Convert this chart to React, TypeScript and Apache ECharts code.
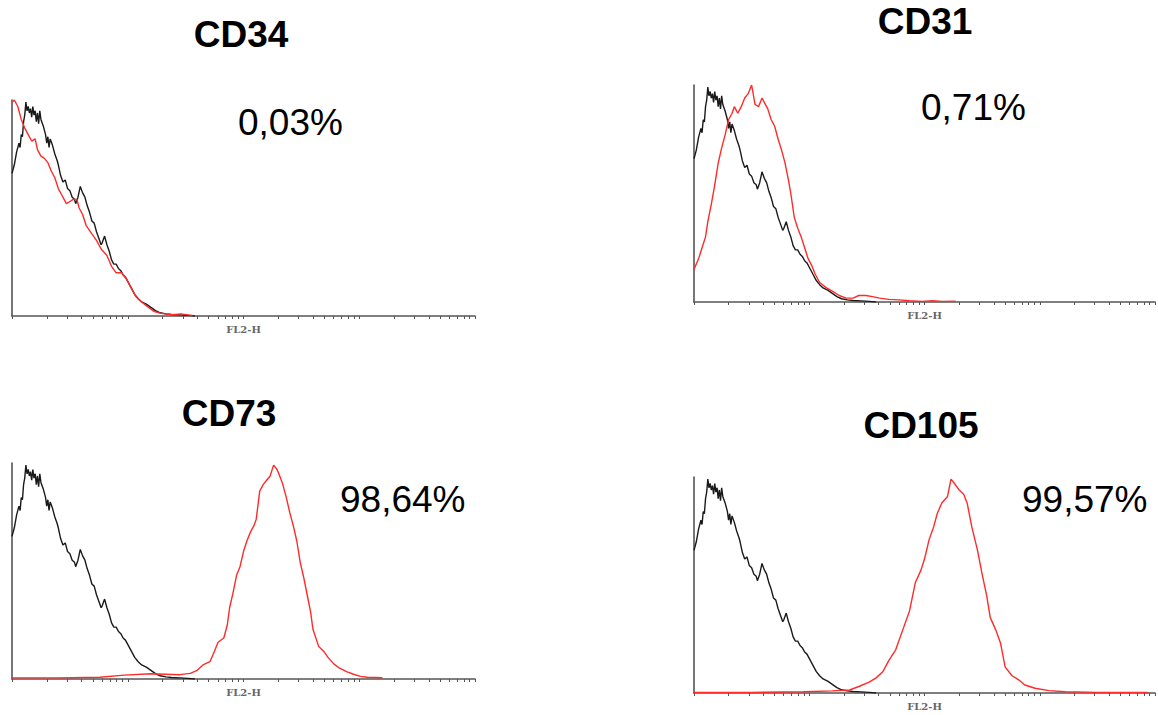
import React, { useEffect, useRef } from "react";
import * as echarts from "echarts";

// Panel labels
const panelTitles = ["CD34", "CD31", "CD73", "CD105"];
const panelPercents = ["0,03%", "0,71%", "98,64%", "99,57%"];
const axisName = "FL2-H";

// Log axis: decades 10^0 .. 10^4, ticks at 1..9 per decade
const decades = [0, 1, 2, 3];
const tickMultipliers = [1, 2, 3, 4, 5, 6, 7, 8, 9];

// Histograms: [log10(FL2-H), % of max count]
const isotypeCurve = [
  [0.0, 66], [0.02, 70], [0.04, 76], [0.06, 80], [0.07, 78], [0.08, 84], [0.09, 83], [0.1, 90],
  [0.11, 93], [0.12, 99], [0.13, 95], [0.14, 97], [0.15, 94], [0.16, 96], [0.17, 92], [0.18, 97],
  [0.19, 93], [0.2, 95], [0.21, 90], [0.22, 94], [0.23, 89], [0.24, 95], [0.25, 91], [0.27, 88],
  [0.29, 84], [0.3, 80], [0.31, 83], [0.32, 78], [0.33, 82], [0.35, 79], [0.37, 75], [0.39, 72],
  [0.4, 70], [0.42, 65], [0.44, 62], [0.46, 63], [0.48, 59], [0.5, 58], [0.52, 55], [0.54, 54],
  [0.55, 52], [0.57, 55], [0.59, 60], [0.61, 57], [0.63, 55], [0.65, 51], [0.67, 48], [0.69, 44],
  [0.71, 43], [0.73, 39], [0.75, 36], [0.77, 33], [0.78, 34], [0.8, 37], [0.82, 33], [0.84, 30],
  [0.86, 26], [0.88, 24], [0.9, 24], [0.92, 22], [0.94, 21], [0.96, 19], [0.98, 18], [1.0, 16],
  [1.03, 13], [1.06, 10], [1.09, 8], [1.12, 6.5], [1.16, 5.5], [1.2, 4], [1.24, 2.5], [1.28, 1.5],
  [1.33, 1], [1.38, 0.7], [1.45, 0.5], [1.52, 0.3], [1.58, 0],
];

const cd34Curve = [
  [0.0, 99], [0.02, 100], [0.05, 97], [0.08, 91], [0.11, 87], [0.14, 84], [0.17, 81], [0.2, 82],
  [0.22, 77], [0.25, 74], [0.28, 73], [0.31, 71], [0.34, 67], [0.37, 64], [0.4, 59], [0.43, 56],
  [0.47, 52], [0.5, 53], [0.53, 54], [0.56, 54], [0.58, 50], [0.61, 47], [0.64, 42], [0.69, 38],
  [0.73, 35], [0.77, 31], [0.82, 28], [0.86, 23], [0.9, 20], [0.95, 20], [0.99, 17], [1.03, 13],
  [1.07, 9], [1.12, 6.5], [1.18, 4], [1.23, 2], [1.29, 1.2], [1.38, 0.6], [1.46, 1], [1.52, 0.5],
  [1.56, 0.2],
];

const cd31Curve = [
  [0.0, 15], [0.04, 20], [0.07, 25], [0.1, 30], [0.12, 37], [0.15, 45], [0.18, 54], [0.21, 64],
  [0.24, 71], [0.27, 77], [0.3, 84], [0.33, 87], [0.35, 90], [0.38, 87], [0.41, 90], [0.44, 94],
  [0.47, 96], [0.5, 100], [0.53, 91], [0.56, 90], [0.59, 94], [0.61, 92], [0.64, 89], [0.67, 84],
  [0.7, 81], [0.73, 75], [0.76, 70], [0.79, 64], [0.82, 56], [0.84, 50], [0.87, 39], [0.9, 34],
  [0.93, 30], [0.96, 25], [0.99, 20], [1.02, 17], [1.05, 13], [1.09, 9], [1.15, 6.5], [1.2, 5],
  [1.26, 3], [1.32, 1.8], [1.38, 1.8], [1.43, 3], [1.49, 3], [1.55, 2.5], [1.61, 1.8], [1.69, 1.2],
  [1.78, 1], [1.87, 0.6], [1.98, 0.3], [2.07, 0.6], [2.15, 0.3], [2.27, 0.4],
];

const cd73Curve = [
  [0.0, 0.5], [0.4, 0.5], [0.76, 0.8], [0.97, 1.8], [1.2, 2.4], [1.45, 2], [1.54, 2.6], [1.6, 4],
  [1.65, 6.5], [1.71, 8], [1.75, 13], [1.78, 17], [1.83, 19], [1.86, 25], [1.88, 33], [1.91, 40],
  [1.94, 48], [1.97, 52], [2.0, 59], [2.03, 64], [2.06, 68], [2.09, 71], [2.11, 74], [2.14, 87],
  [2.17, 90], [2.2, 92], [2.23, 94], [2.26, 99], [2.29, 97], [2.32, 93], [2.34, 90], [2.37, 84],
  [2.4, 77], [2.43, 71], [2.46, 64], [2.49, 54], [2.52, 47], [2.55, 39], [2.58, 31], [2.6, 23],
  [2.65, 15], [2.69, 13], [2.73, 10], [2.78, 7], [2.83, 5], [2.89, 3.4], [2.95, 2.2], [3.01, 1.2],
  [3.07, 0.8], [3.2, 0.6],
];

const cd105Curve = [
  [0.0, 0.3], [0.5, 0.3], [0.95, 0.6], [1.2, 1], [1.35, 1.4], [1.43, 3], [1.52, 5], [1.58, 7],
  [1.64, 10], [1.69, 15], [1.75, 20], [1.81, 29], [1.87, 38], [1.92, 51], [1.97, 57], [2.0, 62],
  [2.04, 71], [2.08, 77], [2.11, 83], [2.15, 88], [2.2, 91], [2.23, 99], [2.26, 97], [2.3, 94],
  [2.34, 92], [2.37, 88], [2.41, 77], [2.46, 66], [2.5, 55], [2.54, 45], [2.57, 35], [2.62, 29],
  [2.66, 23], [2.7, 12], [2.76, 8], [2.82, 6], [2.87, 3.7], [2.96, 2.2], [3.08, 1.1], [3.22, 0.6],
  [3.5, 0.3], [3.94, 0.3],
];

const markerCurves = [cd34Curve, cd31Curve, cd73Curve, cd105Curve];

// Layout (pixels)
const grids = [
  { left: 12, top: 100, width: 463, height: 216 },
  { left: 694, top: 85, width: 461, height: 217 },
  { left: 12, top: 463, width: 463, height: 216 },
  { left: 694, top: 477, width: 461, height: 216 },
];
const titlePos = [
  [241, 34],
  [925, 21],
  [229, 413],
  [921, 425],
];
const percentPos = [
  [238, 122],
  [921, 107],
  [340, 499],
  [1022, 499],
];

export default function App() {
  const ref = useRef<HTMLDivElement>(null);
  useEffect(() => {
    if (!ref.current) return;
    const chart = echarts.init(ref.current, undefined, { renderer: "svg" });
    const tickValues: number[] = [];
    decades.forEach((d) =>
      tickMultipliers.forEach((m) => tickValues.push(Math.log10(m * Math.pow(10, d))))
    );
    tickValues.push(4);

    const xAxis = grids.map((_, i) => ({
      type: "value",
      gridIndex: i,
      min: 0,
      max: 4,
      name: axisName,
      nameLocation: "middle",
      nameGap: 8,
      nameTextStyle: {
        fontFamily: "'DejaVu Serif', serif",
        fontWeight: "bold",
        fontSize: 10,
        color: "#666",
      },
      axisLine: { show: true, lineStyle: { color: "#555", width: 1.6 } },
      axisTick: {
        show: true,
        customValues: tickValues,
        length: 3,
        inside: false,
        lineStyle: { color: "#555", width: 1 },
      },
      axisLabel: { show: false },
      splitLine: { show: false },
    }));
    const yAxis = grids.map((_, i) => ({
      type: "value",
      gridIndex: i,
      min: 0,
      max: 100,
      axisLine: { show: true, lineStyle: { color: "#555", width: 1.6 } },
      axisTick: { show: false },
      axisLabel: { show: false },
      splitLine: { show: false },
    }));
    const series: any[] = [];
    grids.forEach((_, i) => {
      series.push({
        type: "line",
        xAxisIndex: i,
        yAxisIndex: i,
        data: isotypeCurve,
        showSymbol: false,
        silent: true,
        lineStyle: { color: "#1a1a1a", width: 1.4 },
        z: 2,
      });
      series.push({
        type: "line",
        xAxisIndex: i,
        yAxisIndex: i,
        data: markerCurves[i],
        showSymbol: false,
        silent: true,
        lineStyle: { color: "#ff2a2a", width: 1.4 },
        z: 3,
      });
    });
    const graphics: any[] = [];
    panelTitles.forEach((t, i) => {
      graphics.push({
        type: "text",
        style: {
          text: t,
          x: titlePos[i][0],
          y: titlePos[i][1],
          textAlign: "center",
          textVerticalAlign: "middle",
          font: "bold 37px 'Liberation Sans', Arial, sans-serif",
          fill: "#000",
        },
      });
      graphics.push({
        type: "text",
        style: {
          text: panelPercents[i],
          x: percentPos[i][0],
          y: percentPos[i][1],
          textAlign: "left",
          textVerticalAlign: "middle",
          font: "37px 'Liberation Sans', Arial, sans-serif",
          fill: "#000",
        },
      });
    });
    chart.setOption({
      animation: false,
      backgroundColor: "#fff",
      grid: grids.map((g) => ({ ...g, containLabel: false })),
      xAxis,
      yAxis,
      series,
      graphic: graphics,
    });
    return () => chart.dispose();
  }, []);
  return (
    <div
      ref={ref}
      style={{ position: "fixed", left: 0, top: 0, width: 1158, height: 715 }}
    />
  );
}
